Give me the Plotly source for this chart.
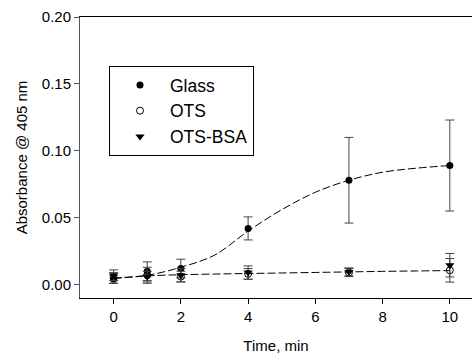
import plotly.graph_objects as go

time_pts = [0, 1, 2, 4, 7, 10]

glass = [0.004, 0.010, 0.012, 0.042, 0.078, 0.089]
glass_err = [0.003, 0.007, 0.007, 0.0086, 0.032, 0.034]

ots = [0.005, 0.007, 0.006, 0.008, 0.009, 0.0107]
ots_err = [0.004, 0.006, 0.004, 0.004, 0.003, 0.0088]

ots_bsa = [0.007, 0.006, 0.007, 0.009, 0.0095, 0.0145]
ots_bsa_err = [0.004, 0.004, 0.005, 0.005, 0.003, 0.0088]

# fitted curves
fit_x = [0, 1, 2, 3, 4, 5, 6, 7, 8, 9, 10]
glass_fit = [0.005, 0.007, 0.013, 0.022, 0.040, 0.056, 0.069, 0.078, 0.084, 0.087, 0.089]
low_fit = [0.0045, 0.0065, 0.0074, 0.0079, 0.0083, 0.0087, 0.0091, 0.0095, 0.0099, 0.0102, 0.0105]

FONT = "Arial, Liberation Sans, sans-serif"
ERRC = "#444444"

fig = go.Figure()

fig.add_trace(go.Scatter(x=fit_x, y=glass_fit, mode="lines", line=dict(color="black", width=1, dash="8px,3px", shape="spline"),
                         showlegend=False, hoverinfo="skip"))
fig.add_trace(go.Scatter(x=fit_x, y=low_fit, mode="lines", line=dict(color="black", width=1, dash="8px,3px", shape="spline"),
                         showlegend=False, hoverinfo="skip"))

def err(e):
    return dict(type="data", array=e, visible=True, color=ERRC, thickness=1, width=4.5)

fig.add_trace(go.Scatter(x=time_pts, y=glass, mode="markers", name="Glass",
                         marker=dict(symbol="circle", size=7, color="black"),
                         error_y=err(glass_err)))
fig.add_trace(go.Scatter(x=time_pts, y=ots, mode="markers", name="OTS",
                         marker=dict(symbol="circle-open", size=7, color="black", line=dict(width=1, color="black")),
                         error_y=err(ots_err)))
fig.add_trace(go.Scatter(x=time_pts, y=ots_bsa, mode="markers", name="OTS-BSA",
                         marker=dict(symbol="triangle-down", size=8, color="black"),
                         error_y=err(ots_bsa_err)))

fig.update_layout(
    width=472, height=354,
    margin=dict(l=80, r=0, t=17, b=56),
    paper_bgcolor="white", plot_bgcolor="white",
    font=dict(family=FONT, size=15, color="black"),
    legend=dict(x=0.074, y=0.8256, xanchor="left", yanchor="top",
                bordercolor="black", borderwidth=1, bgcolor="white",
                font=dict(size=17.5, family=FONT), itemwidth=50),
    xaxis=dict(range=[-1, 10.66], tickvals=[0, 2, 4, 6, 8, 10], ticktext=["0", "2", "4", "6", "8", "10"],
               showgrid=False, zeroline=False, showline=True, linecolor="black", linewidth=1, mirror=True,
               ticks="outside", ticklen=5, tickcolor="black",
               title=dict(text="Time, min", font=dict(size=15), standoff=16)),
    yaxis=dict(range=[-0.01, 0.20], tickvals=[0, 0.05, 0.10, 0.15, 0.20],
               ticktext=["0.00", "0.05", "0.10", "0.15", "0.20"],
               showgrid=False, zeroline=False, showline=True, linecolor="#555555", linewidth=1,
               ticks="outside", ticklen=5, tickcolor="#555555",
               title=dict(text="Absorbance @ 405 nm", font=dict(size=15), standoff=10)),
)

fig.write_html("out.html", config={"displayModeBar": False},
               post_script="document.body.style.margin='0px';document.body.style.overflow='hidden';")
